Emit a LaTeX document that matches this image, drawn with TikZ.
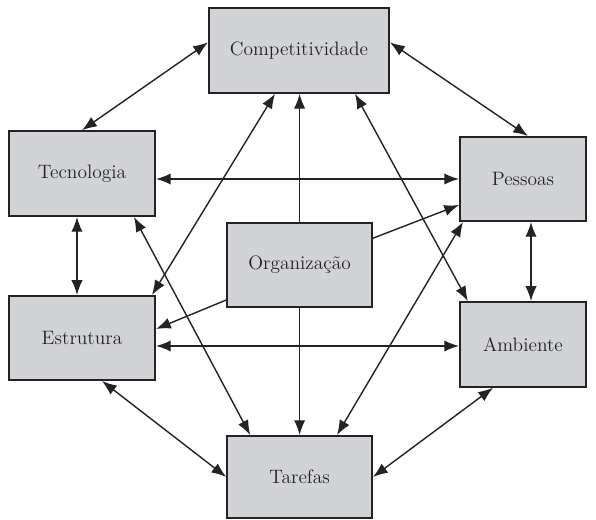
\documentclass[tikz,border=0pt]{standalone}
\usepackage{fontspec}
\usetikzlibrary{arrows.meta,calc}
\definecolor{boxgray}{RGB}{210,211,214}
\definecolor{inkgray}{RGB}{35,35,35}

\begin{document}
\begin{tikzpicture}[box/.style={rectangle,draw=inkgray,line width=1.4pt,fill=boxgray,text=inkgray,font=\fontsize{13.8}{16}\selectfont},
    link/.style={{Latex[length=10.5pt,width=8pt]}-{Latex[length=10.5pt,width=8pt]},line width=1pt,inkgray},
    single/.style={-{Latex[length=10.5pt,width=8pt]},line width=1pt,inkgray}]
\useasboundingbox (0,0) rectangle (14.9,13);

% Nodes
\node[box,minimum width=4.5cm,minimum height=2.12cm] at (7.475,11.74) (comp) {Competitividade};
\node[box,minimum width=3.65cm,minimum height=2.12cm] at (2.05,8.66) (tec) {Tecnologia};
\node[box,minimum width=3.15cm,minimum height=2.1cm] at (13.075,8.525) (pess) {Pessoas};
\node[box,minimum width=3.62cm,minimum height=2.1cm] at (7.49,6.375) (org) {Organização};
\node[box,minimum width=3.65cm,minimum height=2.1cm] at (2.05,4.55) (estr) {Estrutura};
\node[box,minimum width=3.15cm,minimum height=2.12cm] at (13.075,4.39) (amb) {Ambiente};
\node[box,minimum width=3.62cm,minimum height=2.05cm] at (7.49,1.075) (tar) {Tarefas};

%arcs
\path ([yshift=.2cm]comp.west) edge[link] (tec.north);
\path ([yshift=.2cm]comp.east) edge[link] ([xshift=.125cm]pess.north);
\path (tec.east |- pess.west) edge[link] (pess.west);
\path ([xshift=-.125cm]tec.south) edge[link] ([xshift=-.125cm]estr.north);
\path ([xshift=.2cm]pess.south) edge[link] ([xshift=.2cm]amb.north);
\path ([yshift=-.2cm]estr.east) edge[link] ([yshift=-.2cm]estr.east -| amb.west);
\path ([xshift=.5cm]estr.south) edge[link] (tar.west);
\path ([xshift=-.75cm]amb.south) edge[link] (tar.east);
\path ([xshift=-.6cm]comp.south) edge[link] ([xshift=-.1cm]estr.north east);
\path ([xshift=1.4cm]comp.south) edge[link] ([xshift=.22cm]amb.north west);
\path ([xshift=-.55cm]tec.south east) edge[link] ([xshift=.6cm]tar.north west);
\path ([xshift=.1cm]pess.south west) edge[link] ([xshift=-.9cm]tar.north east);

\path (org.north) edge[single] (org.north |- comp.south);
\path ([yshift=.67cm]org.east) edge[single] ([yshift=-.65cm]pess.west);
\path ([yshift=-.875cm]org.west) edge[single] ([yshift=.225cm]estr.east);
\path (org.south) edge[single] (tar.north);

\end{tikzpicture}
\end{document}
